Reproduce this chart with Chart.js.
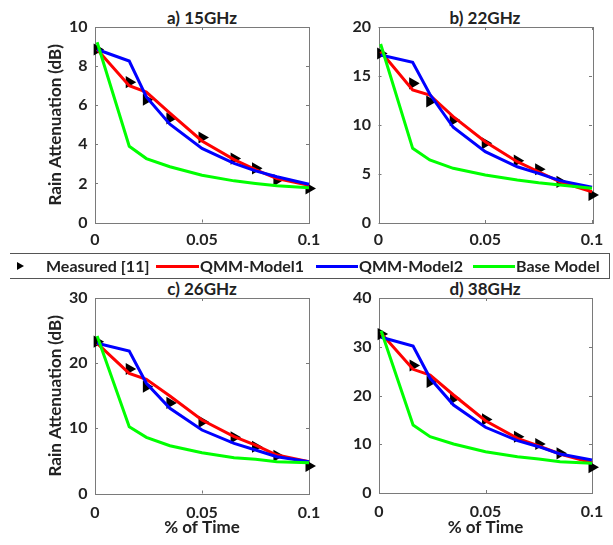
<!DOCTYPE html>
<html><head><meta charset="utf-8">
<script src="https://cdn.jsdelivr.net/npm/chart.js@4.4.1/dist/chart.umd.min.js"></script>
<style>
html,body{margin:0;padding:0;background:#fff;}
body{width:613px;height:545px;position:relative;overflow:hidden;font-family:Lato,"Open Sans",sans-serif;font-weight:bold;color:#222;}
canvas{position:absolute;}
.ttl{position:absolute;font-size:17px;line-height:20px;text-align:center;width:214px;white-space:nowrap;}
#legend{position:absolute;left:10px;top:253px;width:599px;height:24px;border-top:1px solid #555;border-bottom:1px solid #555;border-right:1px solid #555;font-size:16px;}
#legend .it{position:absolute;top:2px;line-height:20px;white-space:nowrap;}
#legend .ln{position:absolute;top:11px;height:3px;}
#legend .mk{position:absolute;left:7px;top:8px;width:0;height:0;border-top:4px solid transparent;border-bottom:4px solid transparent;border-left:7px solid #000;}
</style></head>
<body>
<div class="ttl" style="left:95px;top:8px">a) 15GHz</div>
<div class="ttl" style="left:378px;top:8px">b) 22GHz</div>
<div class="ttl" style="left:95px;top:279px">c) 26GHz</div>
<div class="ttl" style="left:378px;top:279px">d) 38GHz</div>
<canvas id="ca" width="320" height="250" style="left:0;top:0"></canvas>
<canvas id="cb" width="293" height="250" style="left:320px;top:0"></canvas>
<canvas id="cc" width="320" height="275" style="left:0;top:270px"></canvas>
<canvas id="cd" width="293" height="275" style="left:320px;top:270px"></canvas>
<div id="legend">
  <div class="mk"></div>
  <div class="it" style="left:36px">Measured [11]</div>
  <div class="ln" style="left:146px;width:43px;background:#ff0000"></div>
  <div class="it" style="left:190px">QMM-Model1</div>
  <div class="ln" style="left:306px;width:42px;background:#0000ff"></div>
  <div class="it" style="left:349px">QMM-Model2</div>
  <div class="ln" style="left:463px;width:42px;background:#00ff00"></div>
  <div class="it" style="left:506px">Base Model</div>
</div>
<script>
// ---- data ----
const timePct = [0.001, 0.016, 0.024, 0.035, 0.05, 0.065, 0.075, 0.085, 0.1];
const xTicks = [0, 0.05, 0.1];

const measured15 = [8.85, 7.18, 6.28, 5.32, 4.35, 3.27, 2.77, 2.17, 1.74];
const qmm1_15    = [8.85, 7.0, 6.67, 5.6, 4.17, 3.22, 2.71, 2.25, 1.91];
const qmm2_15    = [8.85, 8.26, 6.42, 5.03, 3.79, 3.02, 2.64, 2.34, 1.96];
const base15     = [9.22, 3.9, 3.27, 2.85, 2.42, 2.13, 2.0, 1.88, 1.78];

const measured22 = [17.3, 14.25, 12.4, 10.5, 8.13, 6.36, 5.48, 4.2, 2.86];
const qmm1_22    = [17.5, 13.57, 13.06, 10.85, 8.3, 6.26, 5.23, 4.21, 3.19];
const qmm2_22    = [17.14, 16.4, 13.16, 9.77, 7.28, 5.74, 5.07, 4.32, 3.64];
const base22     = [18.27, 7.62, 6.43, 5.58, 4.9, 4.39, 4.11, 3.88, 3.54];

const measured26 = [23.3, 19.1, 16.4, 13.9, 11.0, 8.62, 7.18, 5.8, 4.22];
const qmm1_26    = [23.05, 18.44, 17.52, 14.96, 11.28, 8.72, 7.44, 5.91, 4.88];
const qmm2_26    = [23.05, 21.87, 16.91, 13.07, 9.74, 7.7, 6.67, 5.65, 4.88];
const base26     = [24.17, 10.25, 8.62, 7.33, 6.26, 5.49, 5.25, 4.88, 4.73];

const measured38 = [32.6, 26.15, 22.8, 19.4, 15.1, 11.55, 10.05, 8.14, 5.27];
const qmm1_38    = [32.76, 25.37, 24.2, 20.1, 14.83, 11.22, 9.64, 8.0, 6.22];
const qmm2_38    = [31.94, 30.15, 23.53, 18.05, 13.48, 10.73, 9.5, 8.0, 6.77];
const base38     = [33.3, 13.95, 11.55, 10.05, 8.47, 7.45, 6.97, 6.42, 6.09];

const yMax15 = 10, yStep15 = 2;
const yMax22 = 20, yStep22 = 5;
const yMax26 = 30, yStep26 = 10;
const yMax38 = 40, yStep38 = 10;

// ---- helpers ----
const pts = (ys) => timePct.map((t, i) => ({x: t, y: ys[i]}));
const FONT = "Lato, 'Open Sans', sans-serif";

const framePlugin = {
  id: 'frame',
  beforeDatasetsDraw(chart) {
    const {ctx, chartArea: a, scales} = chart;
    ctx.save();
    ctx.strokeStyle = '#7a7a7a';
    ctx.lineWidth = 1;
    ctx.strokeRect(Math.round(a.left) + 0.5, Math.round(a.top) + 0.5,
                   Math.round(a.right - a.left), Math.round(a.bottom - a.top));
    ctx.beginPath();
    const tl = 3;
    scales.x.ticks.forEach(t => {
      const px = Math.round(scales.x.getPixelForValue(t.value)) + 0.5;
      ctx.moveTo(px, a.bottom); ctx.lineTo(px, a.bottom - tl);
      ctx.moveTo(px, a.top); ctx.lineTo(px, a.top + tl);
    });
    scales.y.ticks.forEach(t => {
      const py = Math.round(scales.y.getPixelForValue(t.value)) + 0.5;
      ctx.moveTo(a.left, py); ctx.lineTo(a.left + tl, py);
      ctx.moveTo(a.right, py); ctx.lineTo(a.right - tl, py);
    });
    ctx.stroke();
    ctx.restore();
  }
};

function makeChart(id, cfg) {
  const ds = [
    {label: 'Measured [11]', data: pts(cfg.m), showLine: false, pointStyle: 'triangle',
     rotation: 90, pointRadius: 4.6, pointBorderWidth: 2.4, backgroundColor: '#000',
     borderColor: '#000', clip: false, order: 4},
    {label: 'QMM-Model1', data: pts(cfg.r), showLine: true, borderColor: '#ff0000',
     borderWidth: 3, pointRadius: 0, fill: false, clip: false, order: 3},
    {label: 'QMM-Model2', data: pts(cfg.b), showLine: true, borderColor: '#0000ff',
     borderWidth: 3, pointRadius: 0, fill: false, clip: false, order: 2},
    {label: 'Base Model', data: pts(cfg.g), showLine: true, borderColor: '#00ff00',
     borderWidth: 3, pointRadius: 0, fill: false, clip: false, order: 1}
  ];
  return new Chart(document.getElementById(id), {
    type: 'scatter',
    data: {datasets: ds},
    plugins: [framePlugin],
    options: {
      responsive: false, animation: false, events: [],
      layout: {padding: {left: 0, top: cfg.padTop, right: cfg.padRight, bottom: 0}},
      plugins: {legend: {display: false}, tooltip: {enabled: false}, title: {display: false}},
      scales: {
        x: {
          type: 'linear', min: 0, max: 0.1,
          afterBuildTicks: s => { s.ticks = xTicks.map(v => ({value: v})); },
          afterFit: s => { s.height = cfg.xH; s.paddingLeft = 0; s.paddingRight = 0; },
          grid: {display: false, drawTicks: false},
          border: {display: false},
          ticks: {padding: cfg.xPad, color: '#222', maxRotation: 0,
                  font: {family: FONT, size: 16, weight: 'bold'},
                  callback: v => String(v)},
          title: {display: cfg.xTitle, text: '% of Time', color: '#222',
                  font: {family: FONT, size: 17, weight: 'bold'},
                  padding: {top: 0, bottom: 7.5}}
        },
        y: {
          type: 'linear', min: 0, max: cfg.yMax,
          ticks: {stepSize: cfg.yStep, padding: 7.5, color: '#222',
                  font: {family: FONT, size: 16, weight: 'bold'}},
          afterFit: s => { s.width = cfg.yW; s.paddingTop = 0; s.paddingBottom = 0; },
          grid: {display: false, drawTicks: false},
          border: {display: false},
          title: {display: cfg.yTitle, text: 'Rain Attenuation (dB)', color: '#222',
                  font: {family: FONT, size: 17, weight: 'bold'},
                  padding: {top: 45, bottom: 0}}
        }
      }
    }
  });
}

makeChart('ca', {m: measured15, r: qmm1_15, b: qmm2_15, g: base15, yMax: yMax15, yStep: yStep15,
  padTop: 27, padRight: 11, yW: 95, xH: 27.5, xPad: 8, xTitle: false, yTitle: true});
makeChart('cb', {m: measured22, r: qmm1_22, b: qmm2_22, g: base22, yMax: yMax22, yStep: yStep22,
  padTop: 27, padRight: 21, yW: 58.5, xH: 27, xPad: 7.5, xTitle: false, yTitle: false});
makeChart('cc', {m: measured26, r: qmm1_26, b: qmm2_26, g: base26, yMax: yMax26, yStep: yStep26,
  padTop: 28, padRight: 11, yW: 95, xH: 51.5, xPad: 9.5, xTitle: true, yTitle: true});
makeChart('cd', {m: measured38, r: qmm1_38, b: qmm2_38, g: base38, yMax: yMax38, yStep: yStep38,
  padTop: 28, padRight: 21, yW: 59, xH: 52, xPad: 9.5, xTitle: true, yTitle: false});
</script>
</body></html>
